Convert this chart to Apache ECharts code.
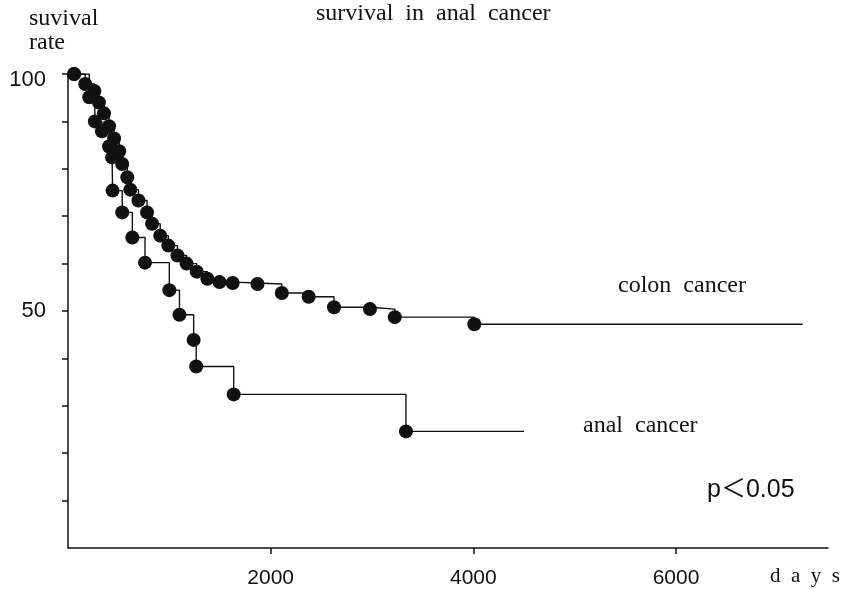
<!DOCTYPE html>
<html>
<head>
<meta charset="utf-8">
<script src="https://cdn.jsdelivr.net/npm/echarts@6.0.0/dist/echarts.min.js"></script>
<style>
  html, body { margin: 0; padding: 0; background: #fff; }
  #chart { width: 844px; height: 589px; }
</style>
</head>
<body>
<div id="chart"></div>
<script>
// survival curves (days, % surviving)
const colonDays = [60, 170, 260, 305, 355, 405, 455, 505, 535, 585, 615, 695, 780, 830, 910, 990, 1080, 1170, 1270, 1375, 1495, 1625, 1870, 2110, 2375, 2625, 2980, 3225, 4010];
const colonRate = [100, 97.9, 96.4, 94, 91.7, 89, 86.4, 83.7, 81, 78.2, 75.6, 73.3, 70.8, 68.4, 65.9, 63.8, 61.7, 60, 58.3, 56.8, 56.1, 55.9, 55.7, 53.8, 53, 50.8, 50.4, 48.7, 47.2];
const colonFollowUp = 7250;

const analDays = [60, 210, 265, 335, 405, 435, 440, 535, 635, 760, 1000, 1100, 1240, 1265, 1635, 3335];
const analRate = [100, 95.1, 90, 87.9, 84.7, 82.4, 75.4, 70.8, 65.5, 60.2, 54.4, 49.2, 43.9, 38.3, 32.4, 24.6];
const analFollowUp = 4500;

const xTicks = [2000, 4000, 6000];
const yTicks = [10, 20, 30, 40, 50, 60, 70, 80, 90, 100];
const yLabels = [50, 100];

const serif = "'Liberation Serif', 'DejaVu Serif', serif";
const numFont = "'Liberation Sans', sans-serif";

function curve(days, rate, endDay) {
    const pts = [{ value: [0, 100], symbol: 'none' }];
    for (let i = 0; i < days.length; i++) {
        pts.push([days[i], rate[i]]);
    }
    pts.push({ value: [endDay, rate[rate.length - 1]], symbol: 'none' });
    return pts;
}

const chart = echarts.init(document.getElementById('chart'), null, { renderer: 'canvas' });

const lineStyle = { color: '#111', width: 1.4 };

const option = {
    backgroundColor: '#fff',
    animation: false,
    grid: { left: 68, right: 16, top: 74, bottom: 41 },
    xAxis: {
        type: 'value',
        min: 0,
        max: 7500,
        interval: 2000,
        splitLine: { show: false },
        axisLine: { lineStyle: { color: '#111', width: 1.5 } },
        axisTick: { customValues: xTicks, length: 6, lineStyle: { color: '#111', width: 1.5 } },
        axisLabel: {
            customValues: xTicks,
            formatter: v => String(v),
            color: '#111',
            fontFamily: numFont,
            fontSize: 21,
            margin: 20
        }
    },
    yAxis: {
        type: 'value',
        min: 0,
        max: 100,
        interval: 10,
        splitLine: { show: false },
        axisLine: { lineStyle: { color: '#111', width: 1.5 } },
        axisTick: { customValues: yTicks, length: 6, lineStyle: { color: '#111', width: 1.5 } },
        axisLabel: {
            customValues: yLabels,
            formatter: v => (v === 100 ? '{top|100}' : String(v)),
            color: '#111',
            fontFamily: numFont,
            fontSize: 22,
            margin: 22,
            rich: {
                top: { fontFamily: numFont, fontSize: 22, color: '#111', padding: [12, 0, 0, 0] }
            }
        }
    },
    series: [
        {
            name: 'colon cancer',
            type: 'line',
            step: 'end',
            symbol: 'circle',
            symbolSize: 14,
            itemStyle: { color: '#111' },
            lineStyle: lineStyle,
            data: curve(colonDays, colonRate, colonFollowUp)
        },
        {
            name: 'anal cancer',
            type: 'line',
            step: 'end',
            symbol: 'circle',
            symbolSize: 14,
            itemStyle: { color: '#111' },
            lineStyle: lineStyle,
            data: curve(analDays, analRate, analFollowUp)
        }
    ],
    graphic: [
        { type: 'text', left: 29, top: 7, style: { text: 'suvival\nrate', font: '24px ' + serif, fill: '#111', lineHeight: 24 } },
        { type: 'text', left: 316, top: 2, style: { text: 'survival  in  anal  cancer', font: '24px ' + serif, fill: '#111' } },
        { type: 'text', left: 618, top: 274, style: { text: 'colon  cancer', font: '24px ' + serif, fill: '#111' } },
        { type: 'text', left: 583, top: 414, style: { text: 'anal  cancer', font: '24px ' + serif, fill: '#111' } },
        { type: 'text', left: 707, top: 478, style: { text: 'p＜0.05', font: "25px 'Liberation Sans', 'Noto Sans CJK JP', sans-serif", fill: '#111' } },
        { type: 'text', left: 770, top: 566, style: { text: 'd  a  y  s', font: '21px ' + serif, fill: '#111' } }
    ]
};

chart.setOption(option);
</script>
</body>
</html>
